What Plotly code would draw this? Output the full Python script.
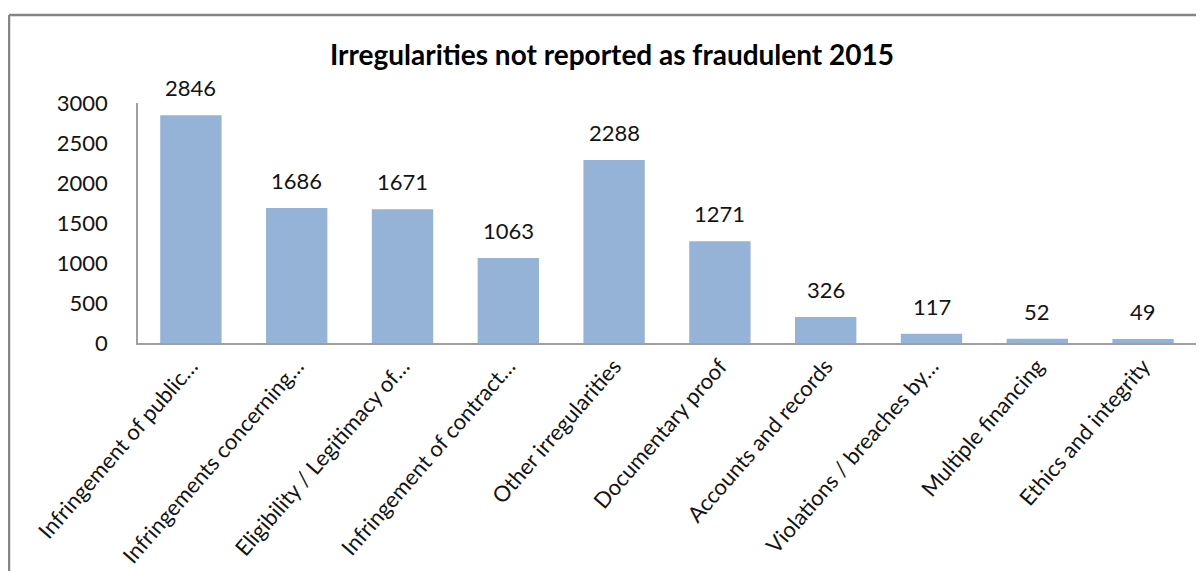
import plotly.graph_objects as go

categories = [
    "Infringement of public…",
    "Infringements concerning…",
    "Eligibility / Legitimacy of…",
    "Infringement of contract…",
    "Other irregularities",
    "Documentary proof",
    "Accounts and records",
    "Violations / breaches by…",
    "Multiple financing",
    "Ethics and integrity",
]
values = [2846, 1686, 1671, 1063, 2288, 1271, 326, 117, 52, 49]
y_ticks = [0, 500, 1000, 1500, 2000, 2500, 3000]

OFF = 8  # page body margin offset
W, H = 1204 - OFF, 571 - OFF
L, R, T = 138 - OFF, 16 - OFF, 103 - OFF
B = H - T - 240
pw, ph = W - L - R, H - T - B

FONT = "Lato"
TXT = "#141414"

fig = go.Figure(go.Bar(
    x=categories, y=values,
    marker=dict(color="#95B3D7", line=dict(width=0)),
    width=0.58,
    hoverinfo="x+y",
))

for c, v in zip(categories, values):
    fig.add_annotation(x=c, y=v, text=str(v), showarrow=False,
                       yanchor="bottom", yshift=12,
                       font=dict(family=FONT, size=22, color=TXT))

fx = lambda px: (px - OFF - L) / pw
fy = lambda py: (H - B - (py - OFF)) / ph

fig.update_layout(
    width=W, height=H,
    margin=dict(l=L, r=R, t=T, b=B),
    paper_bgcolor="white", plot_bgcolor="white",
    title=dict(text="<b>Irregularities not reported as fraudulent 2015</b>",
               x=(612 - OFF) / W, xanchor="center", y=1 - (55 - OFF) / H, yanchor="middle",
               font=dict(family=FONT, size=28, color="#000000")),
    font=dict(family=FONT, size=22, color=TXT),
    showlegend=False,
    xaxis=dict(tickangle=-49, showline=True, linecolor="#a0a0a0", linewidth=1.5,
               ticks="", showgrid=False, automargin=False,
               tickfont=dict(family=FONT, size=22, color=TXT)),
    yaxis=dict(range=[0, 3000], tickvals=y_ticks, showline=True, linecolor="#a0a0a0",
               linewidth=1.5, ticks="", showgrid=False, zeroline=False,
               ticklabelstandoff=24, automargin=False,
               tickfont=dict(family=FONT, size=22, color=TXT)),
    shapes=[
        dict(type="line", xref="paper", yref="paper", x0=fx(9), x1=fx(1230),
             y0=fy(15), y1=fy(15), line=dict(color="#868686", width=2.5)),
        dict(type="line", xref="paper", yref="paper", x0=fx(9), x1=fx(9),
             y0=fy(15), y1=fy(600), line=dict(color="#868686", width=2.5)),
    ],
)

fig.write_html("out.html")
